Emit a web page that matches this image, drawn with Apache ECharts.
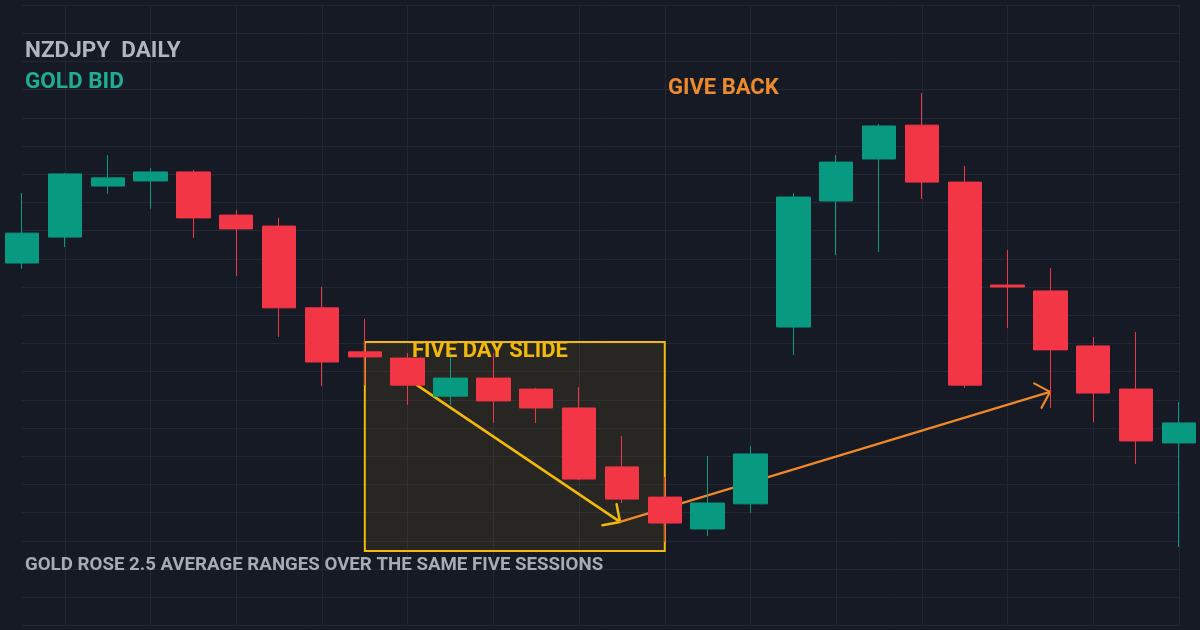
<!DOCTYPE html>
<html>
<head>
<meta charset="utf-8">
<script src="https://cdn.jsdelivr.net/npm/echarts@6/dist/echarts.min.js"></script>
<style>
html,body{margin:0;padding:0;background:#161a25;}
#main{width:1200px;height:630px;}
</style>
</head>
<body>
<div id="main"></div>
<script>
// ---- data ----
const sessions = ['D1','D2','D3','D4','D5','D6','D7','D8','D9','D10','D11','D12','D13','D14','D15','D16','D17','D18','D19','D20','D21','D22','D23','D24','D25','D26','D27','D28'];
// [open, close, low, high]
const opens  = [89.285,89.377,89.558,89.576,89.608,89.455,89.416,89.126,88.970,88.948,88.813,88.877,88.838,88.771,88.562,88.455,88.342,88.431,89.058,89.505,89.654,89.774,89.572,89.207,89.186,88.991,88.838,88.647];
const closes = [89.391,89.601,89.587,89.608,89.445,89.406,89.126,88.934,88.952,88.852,88.877,88.796,88.771,88.519,88.448,88.363,88.434,88.608,89.519,89.643,89.771,89.572,88.852,89.200,88.977,88.824,88.654,88.718];
const lows   = [89.264,89.342,89.530,89.477,89.374,89.239,89.023,88.849,88.852,88.782,88.782,88.718,88.718,88.516,88.434,88.296,88.317,88.399,88.959,89.313,89.324,89.512,88.842,89.055,88.771,88.721,88.572,88.278];
const highs  = [89.533,89.604,89.668,89.622,89.615,89.473,89.445,89.200,89.087,88.966,88.970,88.966,88.842,88.845,88.672,88.526,88.601,88.636,89.533,89.668,89.778,89.888,89.629,89.331,89.267,89.023,89.040,88.792];
// highlighted box: [xStart, yTop, xEnd, yBottom] in session index / price
const slideBox = [8, 89.005, 15, 88.264];
// arrows: [x1, y1, x2, y2]
const slideArrow = [9.218, 88.852, 13.956, 88.367];
const giveBackArrow = [13.956, 88.367, 23.99, 88.828];
const priceMin = 88.0, priceMax = 90.2, priceStep = 0.1;

const candleData = sessions.map((_, i) => [opens[i], closes[i], lows[i], highs[i]]);

const UP = '#089981', DOWN = '#f23645';
const YELLOW = '#f2b90c', ORANGE = '#f0882a';

function boxRender(params, api) {
  const p1 = api.coord([api.value(0), api.value(1)]);
  const p2 = api.coord([api.value(2), api.value(3)]);
  return {
    type: 'rect',
    shape: {x: p1[0], y: p1[1], width: p2[0] - p1[0], height: p2[1] - p1[1]},
    style: {fill: 'rgba(242,185,12,0.08)', stroke: YELLOW, lineWidth: 2}
  };
}
function arrowRender(color, width) {
  return function (params, api) {
    const a = api.coord([api.value(0), api.value(1)]);
    const b = api.coord([api.value(2), api.value(3)]);
    const ang = Math.atan2(b[1] - a[1], b[0] - a[0]);
    const len = 18, spread = Math.PI / 4;
    const l = [b[0] - len * Math.cos(ang - spread), b[1] - len * Math.sin(ang - spread)];
    const r = [b[0] - len * Math.cos(ang + spread), b[1] - len * Math.sin(ang + spread)];
    const st = {stroke: color, lineWidth: width, fill: null, lineCap: 'round', lineJoin: 'round'};
    return {
      type: 'group',
      children: [
        {type: 'line', shape: {x1: a[0], y1: a[1], x2: b[0], y2: b[1]}, style: st},
        {type: 'polyline', shape: {points: [l, b, r]}, style: st}
      ]
    };
  };
}

const chart = echarts.init(document.getElementById('main'), null, {renderer: 'canvas'});
const FONT = 'Roboto';
chart.setOption({
  backgroundColor: '#161a25',
  animation: false,
  grid: {left: 22, right: 21, top: 5, bottom: 4.6},
  xAxis: [
    {type: 'category', data: sessions, boundaryGap: false,
     axisLine: {show: false}, axisTick: {show: false}, axisLabel: {show: false},
     splitLine: {show: true, interval: (i) => i % 2 === 1, lineStyle: {color: '#232735', width: 1}}},
    {type: 'value', min: 0, max: sessions.length - 1, show: false, splitLine: {show: false}}
  ],
  yAxis: {type: 'value', min: priceMin, max: priceMax, interval: priceStep, scale: true,
    axisLine: {show: false}, axisTick: {show: false}, axisLabel: {show: false},
    splitLine: {show: true, lineStyle: {color: '#232735', width: 1}}},
  series: [
    {type: 'custom', xAxisIndex: 1, z: 1, renderItem: boxRender, data: [slideBox], silent: true},
    {type: 'custom', xAxisIndex: 1, z: 1, renderItem: arrowRender(YELLOW, 2.5), data: [slideArrow], silent: true},
    {type: 'custom', xAxisIndex: 1, z: 1, renderItem: arrowRender(ORANGE, 2.2), data: [giveBackArrow], silent: true},
    {type: 'candlestick', xAxisIndex: 0, z: 3, clip: false, barWidth: '79%', data: candleData,
     itemStyle: {color: UP, color0: DOWN, borderColor: UP, borderColor0: DOWN, borderWidth: 1}}
  ],
  graphic: [
    {type: 'text', left: 25, top: 40, z: 10, style: {text: 'NZDJPY  DAILY', fill: '#b2b5be', font: 'bold 22.5px ' + FONT}},
    {type: 'text', left: 25, top: 71, z: 10, style: {text: 'GOLD BID', fill: '#1fae93', font: 'bold 22.5px ' + FONT}},
    {type: 'text', left: 668, top: 77, z: 10, style: {text: 'GIVE BACK', fill: '#ec8a2d', font: 'bold 22px ' + FONT}},
    {type: 'text', left: 412, top: 340, z: 10, style: {text: 'FIVE DAY SLIDE', fill: YELLOW, font: 'bold 22px ' + FONT}},
    {type: 'text', left: 25, top: 556, z: 10, style: {text: 'GOLD ROSE 2.5 AVERAGE RANGES OVER THE SAME FIVE SESSIONS', fill: '#a7abb5', font: 'bold 18.7px ' + FONT}}
  ]
});
</script>
</body>
</html>
